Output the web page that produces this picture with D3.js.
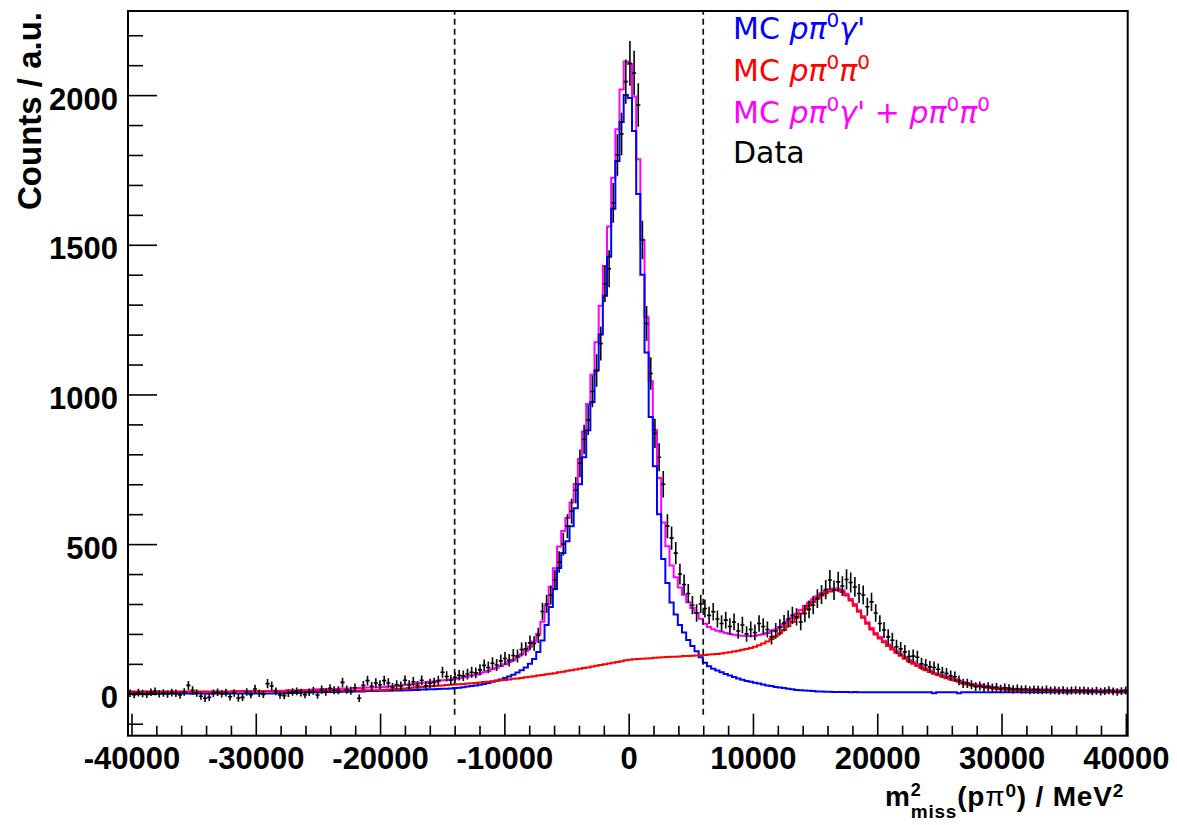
<!DOCTYPE html>
<html><head><meta charset="utf-8">
<script src="https://cdn.jsdelivr.net/npm/d3@7"></script>
<style>body{margin:0;background:#fff}svg{display:block}</style>
</head><body>
<svg id="chart" width="1177" height="825"></svg>
<script>
// ---- binning (categories) ----
const xMin = -40280, xMax = 40150, nBins = 240;
const binWidth = (xMax - xMin) / nBins;

// MC p pi0 gamma' (blue)
const mcSignal = [
0,1,0,1,1,0,1,1,0,1, 1,0,1,1,1,0,1,1,1,0, 1,1,1,0,1,1,1,1,1,1, 1,1,1,1,1,2,2,2,3,3,
3,4,4,4,5,5,5,6,6,6, 6,7,7,7,8,8,8,9,9,9, 10,10,10,11,11,11,12,12,13,13, 14,14,15,15,16,17,17,18,19,20,
22,24,26,28,30,33,36,40,44,48, 53,58,64,71,79,88,100,116,140,178, 230,290,350,420,470,510,560,620,700,790,
880,975,1080,1200,1330,1460,1620,1780,1910,2000, 1990,1880,1670,1400,1140,925,760,600,450,370,
305,265,230,205,180,160,142,122,104,92, 84,78,72,66,61,56,51,47,43,40, 37,34,31,28,26,23,21,19,17,15,
13,12,11,10,9,8,8,7,7,6, 6,6,6,5,6,5,5,5,5,5, 5,5,5,5,5,5,5,5,5,5, 5,5,5,2,5,5,5,5,5,2,
5,5,5,5,5,5,5,5,5,5, 5,5,5,5,5,5,5,5,5,5, 5,5,5,5,5,4,5,5,5,5, 4,5,5,5,4,5,5,5,4,5
];
// MC p pi0 pi0 (red)
const mcBackground = [
7,7,7,7,7,7,7,7,7,7, 7,7,7,7,7,7,7,7,7,7, 7,7,7,7,7,8,8,8,8,8, 8,8,8,8,8,8,8,8,9,9,
9,9,9,9,9,10,10,10,10,10, 10,11,11,11,11,11,12,12,12,12, 12,13,14,15,16,17,18,19,20,22, 23,24,25,26,27,28,29,30,31,32,
33,34,35,36,38,39,40,42,43,45, 46,48,50,51,53,55,57,59,61,63, 65,67,69,72,74,77,79,81,84,86,
88,91,94,96,99,101,104,106,109,112, 114,115,116,117,118,119,120,121,122,123,
124,124,125,126,126,127,128,129,130,131, 132,133,135,137,139,141,144,147,150,153, 157,162,168,175,183,192,202,213,226,240,
254,268,282,295,307,318,328,336,342,346, 346,340,328,312,294,274,254,234,215,198, 185,172,160,148,137,127,117,108,100,93,
86,79,73,67,62,57,52,48,44,40, 34,31,28,26,24,22,20,18,16,15, 14,13,12,12,11,11,10,10,10,9, 9,9,9,8,8,8,8,8,8,8,8,8,7,7,7,7,7,7,7,7
];
// Data (black points)
const dataCounts = [
2,-3,4,1,-2,5,8,0,3,-1, 4,2,-4,6,28,12,3,-8,-15,-12, 2,5,0,4,-10,3,-14,-12,6,-3, 16,2,-2,34,26,8,-4,-6,2,6,
8,4,-3,5,10,-4,14,6,18,12, 12,38,14,10,20,-15,28,44,25,36, 30,44,36,22,30,26,45,30,40,28, 45,27,35,38,44,72,58,46,55,62,
60,66,72,70,80,95,88,102,96,110, 118,112,128,126,148,150,170,168,195,275, 300,330,380,440,500,560,610,680,770,850,
915,1010,1080,1170,1370,1420,1640,1800,1870,2045, 2106,2074,1967,1516,1237,1070,870,790,700,560,
520,470,400,365,335,296,270,300,285,262, 274,250,235,246,225,240,210,230,200,215, 205,235,225,215,190,210,222,236,250,262,
257,240,268,282,296,318,332,348,380,346, 374,360,382,372,357,335,330,291,307,270, 235,213,190,179,157,150,140,124,126,122,
100,96,90,88,82,72,68,60,57,45, 35,35,30,24,26,22,24,20,22,16, 20,18,15,17,14,15,12,14,13,12,
14,11,12,10,12,9,11,12,10,11, 9,8,10,7,9,12,8,6,9,11
];
// sum of the two MC samples (magenta)
const mcSum = mcSignal.map((v, i) => v + mcBackground[i]);

const xTicks = [-40000,-30000,-20000,-10000,0,10000,20000,30000,40000];
const xTickLabels = ["-40000","-30000","-20000","-10000","0","10000","20000","30000","40000"];
const yTicks = [0,500,1000,1500,2000];
const yTickLabels = ["0","500","1000","1500","2000"];
const cutLines = [-14000, 6000];
const yDomain = [-140, 2281];

// ---- layout ----
const L = 128, R = 1127.7, T = 11, B = 735.7;
const svg = d3.select('#chart');
const x = d3.scaleLinear().domain([xMin, xMax]).range([L, R]);
const y = d3.scaleLinear().domain(yDomain).range([B, T]);

svg.append('defs').append('clipPath').attr('id','clip')
  .append('rect').attr('x',L).attr('y',T).attr('width',R-L).attr('height',B-T);

const edges = d3.range(nBins + 1).map(i => xMin + i * binWidth);
function histPoints(vals){
  const pts = [];
  vals.forEach((v,i) => { pts.push([edges[i], v]); pts.push([edges[i+1], v]); });
  return pts;
}
const line = d3.line().x(d => x(d[0])).y(d => y(d[1]));
const gPlot = svg.append('g').attr('clip-path','url(#clip)');

[[mcSum,'#ff00ff'],[mcSignal,'#0000ff'],[mcBackground,'#ff0000']].forEach(([vals,col]) => {
  gPlot.append('path').attr('d', line(histPoints(vals)))
    .attr('fill','none').attr('stroke',col).attr('stroke-width',2).attr('stroke-linejoin','miter');
});

// data points with error bars
const err = v => Math.sqrt(2.6*Math.max(v,0) + 150);
const gData = gPlot.append('g').attr('stroke','#000').attr('stroke-width',1.6);
dataCounts.forEach((v,i) => {
  const c = (edges[i] + edges[i+1]) / 2, e = err(v);
  gData.append('line').attr('x1',x(c)).attr('x2',x(c)).attr('y1',y(v-e)).attr('y2',y(v+e));
  gData.append('line').attr('x1',x(edges[i])).attr('x2',x(edges[i+1])).attr('y1',y(v)).attr('y2',y(v));
});

// cut lines
cutLines.forEach(c => {
  svg.append('line').attr('x1',x(c)).attr('x2',x(c)).attr('y1',y(-70)).attr('y2',T)
    .attr('stroke','#111').attr('stroke-width',1.7).attr('stroke-dasharray','6,4');
});

// ---- axes ----
const tickFont = "bold 31px 'Liberation Sans', Arial, Helvetica, sans-serif";
const xMinor = d3.range(-40000, 40001, 2000).filter(v => v % 10000 !== 0);
const yMinor = d3.range(-100, 2201, 100).filter(v => v % 500 !== 0);

const gx = svg.append('g').attr('transform',`translate(0,${B})`)
  .call(d3.axisBottom(x).tickValues(xTicks).tickSize(-22).tickPadding(11)
        .tickFormat((d,i) => xTickLabels[i]));
const gxm = svg.append('g').attr('transform',`translate(0,${B})`)
  .call(d3.axisBottom(x).tickValues(xMinor).tickSize(-10).tickFormat(''));
const gy = svg.append('g').attr('transform',`translate(${L},0)`)
  .call(d3.axisLeft(y).tickValues(yTicks).tickSize(-29).tickPadding(10)
        .tickFormat((d,i) => yTickLabels[i]));
const gym = svg.append('g').attr('transform',`translate(${L},0)`)
  .call(d3.axisLeft(y).tickValues(yMinor).tickSize(-15).tickFormat(''));
[gx,gxm,gy,gym].forEach(g => {
  g.select('.domain').remove();
  g.selectAll('.tick line').attr('stroke','#000').attr('stroke-width',1.6);
  g.selectAll('.tick text').style('font', tickFont).attr('fill','#000');
});
gy.selectAll('.tick text').attr('dy','0.45em');

// frame
svg.append('rect').attr('x',L).attr('y',T).attr('width',R-L).attr('height',B-T)
  .attr('fill','none').attr('stroke','#000').attr('stroke-width',2);

// ---- axis titles ----
svg.append('text')
  .attr('transform','translate(41,12) rotate(-90)')
  .attr('text-anchor','end')
  .style('font',"bold 33px 'Liberation Sans', Arial, Helvetica, sans-serif")
  .text('Counts / a.u.');

const xt = svg.append('text').attr('x',1124).attr('y',806).attr('text-anchor','end')
  .style('font',"bold 28px 'Liberation Sans', Arial, Helvetica, sans-serif")
  .style('letter-spacing','0.8px');
xt.append('tspan').text('m');
const sup2 = xt.append('tspan').attr('font-size',18).attr('dy',-10).text('2');
const w2 = sup2.node().getComputedTextLength();
xt.append('tspan').attr('font-size',19).attr('dx',-w2).attr('dy',22).text('miss');
xt.append('tspan').attr('dy',-12).text('(p');
xt.append('tspan').attr('font-weight','normal').text('π');
xt.append('tspan').attr('font-size',19).attr('dy',-9).text('0');
xt.append('tspan').attr('dy',9).text(') / MeV');
xt.append('tspan').attr('font-size',19).attr('dy',-9).text('2');

// ---- legend ----
const legendFont = "30px 'DejaVu Sans', sans-serif";
const legend = [
  {col:'#0000ff', parts:[['MC ',0],['pπ',1],['0',2],['γ\'',1]]},
  {col:'#ff0000', parts:[['MC ',0],['pπ',1],['0',2],['π',1],['0',2]]},
  {col:'#ff00ff', parts:[['MC ',0],['pπ',1],['0',2],['γ\' + ',1],['pπ',1],['0',2],['π',1],['0',2]]},
  {col:'#000000', parts:[['Data',0]]}
];
const legendY = [39, 81, 122.5, 163];
legend.forEach((item,k) => {
  const t = svg.append('text').attr('x',733).attr('y',legendY[k]).attr('fill',item.col).style('font',legendFont);
  let sup = false;
  item.parts.forEach(([s,kind]) => {
    const ts = t.append('tspan').text(s);
    if (kind === 1) ts.attr('font-style','italic');
    if (kind === 2) { ts.attr('font-size',20).attr('dy',-12); sup = true; }
    else if (sup) { ts.attr('dy',12); sup = false; }
  });
});
</script>
</body></html>
